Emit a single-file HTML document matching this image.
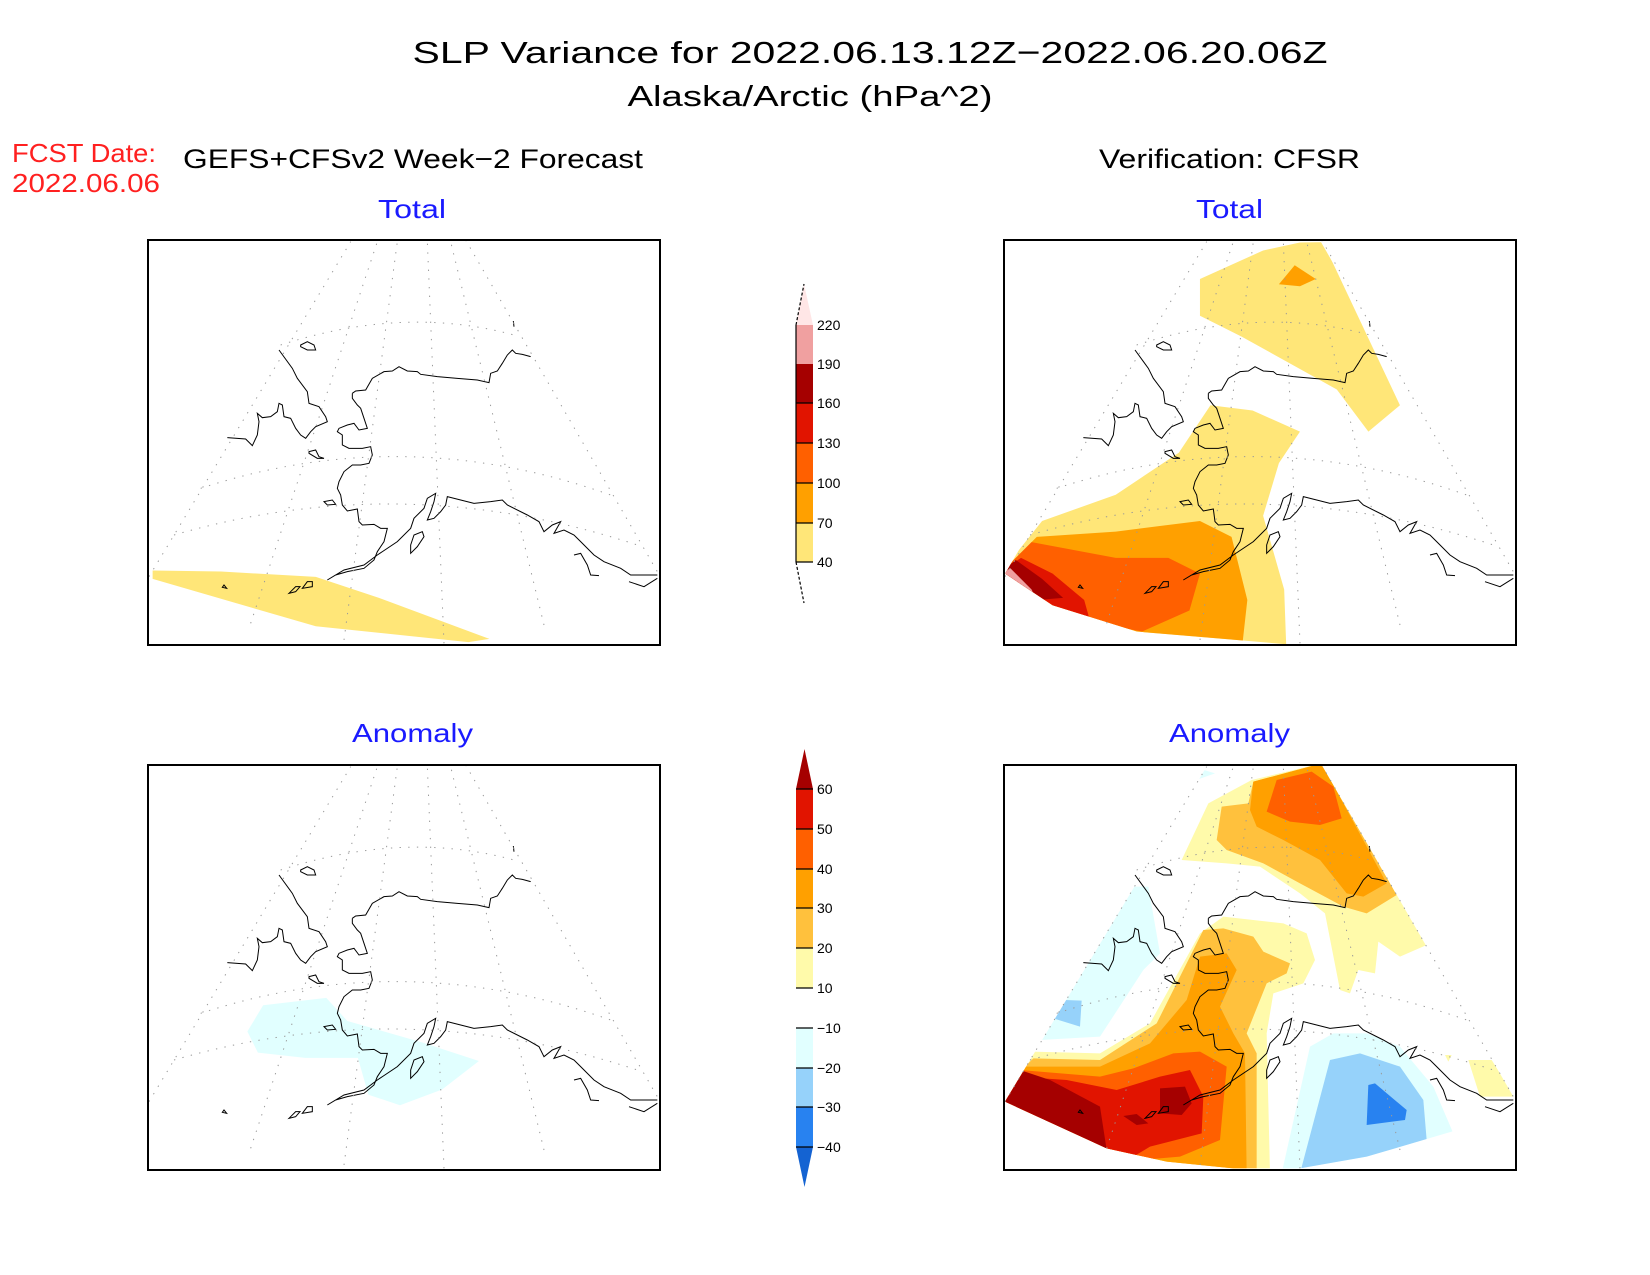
<!DOCTYPE html>
<html><head><meta charset="utf-8"><style>
html,body{margin:0;padding:0;background:#fff;}
svg{display:block;}
text{font-family:"Liberation Sans",sans-serif;}
</style></head><body>
<svg width="1650" height="1275" viewBox="0 0 1650 1275" xmlns="http://www.w3.org/2000/svg">
<defs>
<symbol id="coast" overflow="visible">
<g fill="none" stroke="#000" stroke-width="3">
<polyline points="405,345 445,400 460,430 490,470 495,505 525,515 545,545 550,560 515,575 500,590 485,610 470,600 455,580 440,550 420,545 415,510 405,505 400,530 380,545 355,548 340,535 345,560 340,600 325,632 305,612 250,608"/>
<polyline points="625,475 635,468 665,465 685,430 720,410 745,408 765,395 790,408 820,410 830,418 880,425 940,430 1000,435 1035,443 1040,415 1060,408 1075,385 1090,360 1105,345 1115,355 1135,358 1160,365"/>
<polyline points="1108,258 1110,275"/>
<polyline points="625,475 625,490 640,510 650,520 660,550 670,580 645,585 630,565 610,570 585,580 580,590 595,600 595,630 615,640 655,640 680,635 685,660 675,685 650,690 625,690 600,710 585,740 580,760 590,780 595,810 610,828 640,822 645,860 655,870 690,868 710,880 730,880 720,920 700,950 690,975 660,1000 610,1010 575,1020 550,1035 600,1005 660,990 700,960 760,920 800,880 810,850 840,820 850,790 875,775 870,800 860,830 850,855 870,850 890,830 905,810 910,785 950,795 990,805 1040,800 1075,795 1090,810 1150,840 1185,860 1200,890 1225,870 1250,860 1230,895 1260,885 1290,900 1310,920 1350,960 1380,980 1430,1000 1460,1020 1540,1020"/>
<polyline points="1290,960 1310,955 1330,990 1340,1020 1365,1022"/>
<polyline points="1455,1040 1500,1055 1540,1030"/>
<polygon points="470,330 490,320 510,330 515,345 490,345 470,335"/>
<polygon points="495,650 515,645 525,665 540,670 520,670 495,655"/>
<polygon points="540,800 565,795 575,808 550,810"/>
<polygon points="800,930 810,900 835,890 840,905 820,935 800,955"/>
<polygon points="435,1075 455,1055 468,1055 455,1070"/>
<polygon points="475,1060 490,1040 505,1040 505,1055"/>
<polygon points="235,1057 240,1050 248,1060"/>
</g>
<g fill="none" stroke="#999" stroke-width="3" stroke-dasharray="4,22">
<line x1="15" y1="1025" x2="620" y2="20"/>
<line x1="965" y1="15" x2="1540" y2="1010"/>
<line x1="320" y1="1165" x2="700" y2="20"/>
<line x1="600" y1="1215" x2="760" y2="20"/>
<line x1="900" y1="1225" x2="850" y2="20"/>
<line x1="1200" y1="1170" x2="920" y2="20"/>
<path d="M170,760 Q780,560 1400,780"/>
<path d="M410,330 Q780,210 1110,300"/>
<path d="M90,900 Q780,700 1480,930"/>
</g>
</symbol>
<clipPath id="wedge"><polygon points="15,1025 620,20 965,15 1540,1010 1355,1115 1100,1190 900,1225 700,1225 500,1205 320,1165"/></clipPath>
</defs>

<text x="870" y="63" font-size="31" text-anchor="middle" textLength="915" lengthAdjust="spacingAndGlyphs">SLP Variance for 2022.06.13.12Z−2022.06.20.06Z</text>
<text x="810" y="106" font-size="29" text-anchor="middle" textLength="365" lengthAdjust="spacingAndGlyphs">Alaska/Arctic (hPa^2)</text>
<text x="12" y="162" font-size="26" fill="#ff2020" textLength="144" lengthAdjust="spacingAndGlyphs">FCST Date:</text>
<text x="12" y="192" font-size="26" fill="#ff2020" textLength="148" lengthAdjust="spacingAndGlyphs">2022.06.06</text>
<text x="183" y="168" font-size="27" textLength="460" lengthAdjust="spacingAndGlyphs">GEFS+CFSv2 Week−2 Forecast</text>
<text x="1099" y="168" font-size="27" textLength="261" lengthAdjust="spacingAndGlyphs">Verification: CFSR</text>
<text x="378" y="218" font-size="26" fill="#1a1aff" textLength="68" lengthAdjust="spacingAndGlyphs">Total</text>
<text x="1196" y="218" font-size="26" fill="#1a1aff" textLength="67" lengthAdjust="spacingAndGlyphs">Total</text>
<text x="352" y="742" font-size="26" fill="#1a1aff" textLength="121" lengthAdjust="spacingAndGlyphs">Anomaly</text>
<text x="1169" y="742" font-size="26" fill="#1a1aff" textLength="121" lengthAdjust="spacingAndGlyphs">Anomaly</text>

<g transform="scale(1.0526)">
<polygon fill="#ffe678" points="145,542 210,543 300,548 360,568 465,607 445,610 300,595 145,550"/>
</g>
<g transform="translate(144,235) scale(0.33333)"><use href="#coast"/></g>
<rect x="148" y="240" width="512" height="405" fill="none" stroke="#000" stroke-width="2"/>

<g transform="scale(1.0526)">
<clipPath id="w2"><polygon points="955,545 1135,232 1255,230 1438,548 1380,580 1300,600 1222,612 1080,600 1000,575"/></clipPath>
<g clip-path="url(#w2)">
<polygon fill="#ffe678" points="1140,265 1200,238 1255,226 1330,385 1300,410 1270,370 1180,320 1140,300"/>
<polygon fill="#ffa000" points="1215,270 1230,252 1250,265 1235,272"/>
<polygon fill="#ffe678" points="950,545 990,495 1060,470 1120,430 1150,385 1190,390 1235,410 1215,440 1200,490 1220,560 1222,615 1080,615 950,575"/>
<polygon fill="#ffa000" points="955,540 985,510 1060,505 1100,500 1140,495 1170,510 1185,570 1180,615 1085,615 955,575"/>
<polygon fill="#ff6000" points="955,540 980,515 1060,530 1110,530 1140,545 1130,580 1085,600 1030,590 955,570"/>
<polygon fill="#e11400" points="955,540 970,530 1000,545 1030,570 1035,588 985,572 955,560"/>
<polygon fill="#a50000" points="955,540 965,532 990,550 1010,568 985,570 955,555"/>
<polygon fill="#f0a0a0" points="950,545 960,540 980,560 985,570 950,560"/>
</g>
</g>
<g transform="translate(1000,235) scale(0.33333)"><use href="#coast"/></g>
<rect x="1004" y="240" width="512" height="405" fill="none" stroke="#000" stroke-width="2"/>

<g transform="scale(1.0526)">
<polygon fill="#e1ffff" points="235,980 250,955 310,948 330,970 400,990 455,1008 420,1035 380,1050 350,1040 340,1005 290,1005 245,1000"/>
</g>
<g transform="translate(144,760) scale(0.33333)"><use href="#coast"/></g>
<rect x="148" y="765" width="512" height="405" fill="none" stroke="#000" stroke-width="2"/>

<g transform="translate(1000,760) scale(0.33333)">
<g clip-path="url(#wedge)">
<polygon fill="#e1ffff" points="560,70 580,20 645,40"/>
<polygon fill="#e1ffff" points="100,860 250,610 400,380 445,380 480,580 430,630 300,830 120,840"/>
<polygon fill="#96d2fa" points="160,775 195,720 245,722 240,800"/>
<polygon fill="#fffaaa" points="545,300 625,130 755,60 965,10 1280,555 1200,590 1135,545 1125,640 1075,630 1050,700 1020,690 975,460 900,400 780,320 680,310"/>
<polygon fill="#fffaaa" points="0,880 95,875 300,880 450,790 600,520 670,470 850,490 920,520 945,600 910,670 820,700 800,820 810,1240 0,1240"/>
<polygon fill="#fffaaa" points="1405,900 1475,900 1545,1010 1440,1010"/>
<polygon fill="#fffaaa" points="1335,885 1355,885 1345,905"/>
<polygon fill="#ffc13d" points="650,240 665,140 745,130 760,65 965,10 1190,405 1100,460 1030,440 900,370 790,310 680,270"/>
<polygon fill="#ffc13d" points="0,920 80,915 100,895 300,900 470,790 610,510 670,505 760,530 790,575 870,610 860,640 800,670 740,820 770,880 770,1240 0,1240"/>
<polygon fill="#ffa000" points="750,150 760,65 965,10 1160,370 1090,410 1040,400 960,300 850,240 770,200"/>
<polygon fill="#ffa000" points="0,925 75,920 300,920 450,850 560,720 600,590 680,580 710,630 660,740 700,820 735,880 740,1240 0,1240"/>
<polygon fill="#ff6000" points="800,155 830,60 935,35 1000,80 1025,175 960,195 870,185"/>
<polygon fill="#ff6000" points="0,930 60,930 300,950 400,925 520,880 600,875 680,920 660,1140 540,1190 420,1200 0,1240"/>
<polygon fill="#e11400" points="0,945 50,950 200,960 350,990 480,950 570,930 610,1010 605,1120 450,1160 400,1190 0,1240"/>
<polygon fill="#a50000" points="0,1025 60,930 150,960 300,1040 320,1170 0,1240"/>
<polygon fill="#a50000" points="480,985 555,980 575,1030 545,1065 480,1060"/>
<polygon fill="#a50000" points="370,1068 410,1062 445,1090 410,1095"/>
<polygon fill="#e1ffff" points="845,1240 930,860 1000,820 1100,820 1200,860 1300,980 1360,1120 1100,1240"/>
<polygon fill="#96d2fa" points="900,1240 990,900 1080,880 1200,920 1270,1020 1280,1140 1100,1240"/>
<polygon fill="#2882f0" points="1105,975 1125,970 1220,1050 1215,1080 1100,1095"/>
</g>
<use href="#coast"/>
</g>
<rect x="1004" y="765" width="512" height="405" fill="none" stroke="#000" stroke-width="2"/>

<g font-size="14">
<polygon fill="#ffe6e6" points="796,325 813,325 804,284"/>
<rect x="796" y="325" width="17" height="39" fill="#f0a0a0"/>
<rect x="796" y="364" width="17" height="39" fill="#a50000"/>
<rect x="796" y="403" width="17" height="40" fill="#e11400"/>
<rect x="796" y="443" width="17" height="40" fill="#ff6000"/>
<rect x="796" y="483" width="17" height="40" fill="#ffa000"/>
<rect x="796" y="523" width="17" height="39" fill="#ffe678"/>
<g stroke="#000" stroke-width="1.2" fill="none">
<line x1="796" y1="325" x2="796" y2="562"/>
<polyline points="796,325 804,284" stroke-dasharray="3,2"/>
<polyline points="796,562 804,603" stroke-dasharray="3,2"/>
<line x1="796" y1="562" x2="813" y2="562"/><line x1="796" y1="523" x2="813" y2="523"/>
<line x1="796" y1="483" x2="813" y2="483"/><line x1="796" y1="443" x2="813" y2="443"/>
<line x1="796" y1="403" x2="813" y2="403"/>
</g>
<text x="817" y="330">220</text><text x="817" y="369">190</text><text x="817" y="408">160</text>
<text x="817" y="448">130</text><text x="817" y="488">100</text><text x="817" y="528">70</text><text x="817" y="567">40</text>
</g>

<g font-size="14">
<polygon fill="#a50000" points="796,789 813,789 804.5,749"/>
<rect x="796" y="789" width="17" height="40" fill="#e11400"/>
<rect x="796" y="829" width="17" height="40" fill="#ff6000"/>
<rect x="796" y="869" width="17" height="40" fill="#ffa000"/>
<rect x="796" y="908" width="17" height="40" fill="#ffc13d"/>
<rect x="796" y="948" width="17" height="40" fill="#fffaaa"/>
<rect x="796" y="988" width="17" height="40" fill="#ffffff"/>
<rect x="796" y="1028" width="17" height="40" fill="#e1ffff"/>
<rect x="796" y="1068" width="17" height="40" fill="#96d2fa"/>
<rect x="796" y="1107" width="17" height="40" fill="#2882f0"/>
<polygon fill="#1463d2" points="796,1147 813,1147 804.5,1187"/>
<g stroke="#000" stroke-width="1.2">
<line x1="796" y1="789" x2="813" y2="789"/><line x1="796" y1="829" x2="813" y2="829"/>
<line x1="796" y1="869" x2="813" y2="869"/><line x1="796" y1="908" x2="813" y2="908"/>
<line x1="796" y1="948" x2="813" y2="948"/><line x1="796" y1="988" x2="813" y2="988"/>
<line x1="796" y1="1028" x2="813" y2="1028"/><line x1="796" y1="1068" x2="813" y2="1068"/>
<line x1="796" y1="1107" x2="813" y2="1107"/><line x1="796" y1="1147" x2="813" y2="1147"/>
</g>
<text x="817" y="794">60</text><text x="817" y="834">50</text><text x="817" y="874">40</text>
<text x="817" y="913">30</text><text x="817" y="953">20</text><text x="817" y="993">10</text>
<text x="817" y="1033">−10</text><text x="817" y="1073">−20</text><text x="817" y="1112">−30</text><text x="817" y="1152">−40</text>
</g>
</svg>
</body></html>
